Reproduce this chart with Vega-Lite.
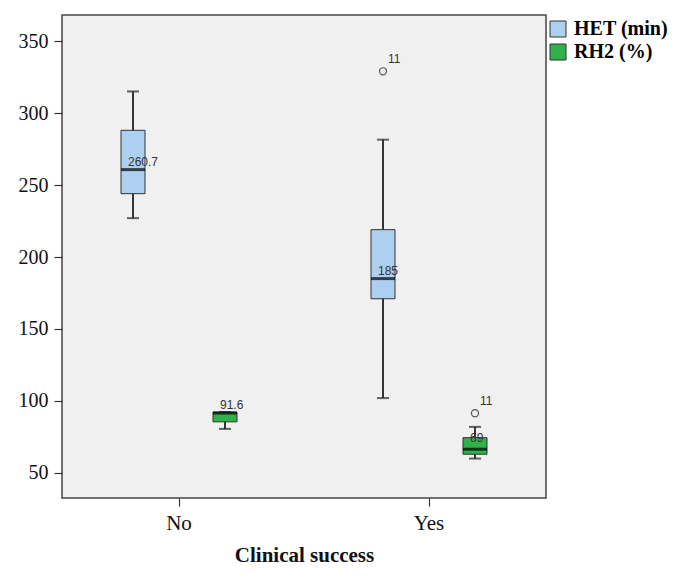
{
  "$schema": "https://vega.github.io/schema/vega-lite/v6.json",
  "autosize": "none",
  "padding": {"left": 62, "top": 15, "right": 142, "bottom": 80},
  "width": 484,
  "height": 483,
  "background": "white",
  "config": {
    "view": {"fill": "#f0f0f0", "stroke": "#444444", "strokeWidth": 1.5},
    "axis": {"grid": false, "domain": false, "tickColor": "#333333", "tickWidth": 1.2, "labelFont": "Liberation Serif", "labelColor": "#111111", "titleFont": "Liberation Serif", "titleColor": "#111111"}
  },
  "data": {
    "values": [
      {"group": "No", "series": "HET (min)", "lower": 227, "q1": 244, "median": 260.7, "q3": 288, "upper": 315, "label": "260.7", "labelPos": 260.7},
      {"group": "No", "series": "RH2 (%)", "lower": 80.6, "q1": 85.5, "median": 91.6, "q3": 92.3, "upper": 92.3, "label": "91.6", "labelPos": 91.6},
      {"group": "Yes", "series": "HET (min)", "lower": 102, "q1": 171, "median": 185, "q3": 219, "upper": 281.5, "label": "185", "labelPos": 185},
      {"group": "Yes", "series": "RH2 (%)", "lower": 60, "q1": 63, "median": 66.5, "q3": 74.5, "upper": 82, "label": "69", "labelPos": 69}
    ]
  },
  "encoding": {
    "x": {
      "field": "group", "type": "nominal",
      "scale": {"range": [-8, 492], "paddingInner": 0, "paddingOuter": 0},
      "axis": {"title": "Clinical success", "labelAngle": 0, "tickSize": 8, "labelPadding": 6, "labelFontSize": 21, "titleFontSize": 21, "titleFontWeight": "bold", "titlePadding": 11}
    },
    "xOffset": {
      "field": "series", "type": "nominal",
      "scale": {"paddingInner": 0, "paddingOuter": 0.359}
    }
  },
  "layer": [
    {
      "mark": {"type": "rule", "color": "#222222", "strokeWidth": 1.8},
      "encoding": {
        "y": {
          "field": "lower", "type": "quantitative",
          "scale": {"domain": [32.6, 368.1], "nice": false, "zero": false},
          "axis": {"title": null, "values": [50, 100, 150, 200, 250, 300, 350], "tickSize": 8, "labelPadding": 6, "labelFontSize": 20}
        },
        "y2": {"field": "upper"}
      }
    },
    {
      "mark": {"type": "tick", "color": "#222222", "size": 12, "thickness": 2},
      "encoding": {"y": {"field": "upper", "type": "quantitative"}}
    },
    {
      "mark": {"type": "tick", "color": "#222222", "size": 12, "thickness": 2},
      "encoding": {"y": {"field": "lower", "type": "quantitative"}}
    },
    {
      "mark": {"type": "bar", "width": 24, "stroke": "#333333", "strokeWidth": 1},
      "encoding": {
        "y": {"field": "q1", "type": "quantitative"},
        "y2": {"field": "q3"},
        "fill": {
          "field": "series", "type": "nominal",
          "scale": {"domain": ["HET (min)", "RH2 (%)"], "range": ["#aed0f0", "#2fb24a"]},
          "legend": {
            "title": null, "orient": "none", "legendX": 486, "legendY": 4,
            "symbolType": "square", "symbolSize": 256, "symbolStrokeColor": "#333333", "symbolStrokeWidth": 1,
            "labelFont": "Liberation Serif", "labelFontSize": 20, "labelFontWeight": "bold", "labelColor": "#000000",
            "rowPadding": 3, "labelOffset": 6, "padding": 0
          }
        }
      }
    },
    {
      "mark": {"type": "tick", "color": "#000000", "size": 24, "thickness": 3},
      "encoding": {"y": {"field": "median", "type": "quantitative"}}
    },
    {
      "mark": {"type": "text", "align": "left", "baseline": "alphabetic", "dx": -5, "dy": -4, "font": "Liberation Sans", "fontSize": 12, "color": "#333333"},
      "encoding": {
        "y": {"field": "labelPos", "type": "quantitative"},
        "text": {"field": "label"}
      }
    },
    {
      "data": {"values": [
        {"group": "Yes", "series": "HET (min)", "value": 329, "case": "11"},
        {"group": "Yes", "series": "RH2 (%)", "value": 91.5, "case": "11"}
      ]},
      "layer": [
        {
          "mark": {"type": "point", "shape": "circle", "size": 50, "filled": false, "stroke": "#555555", "strokeWidth": 1.2, "opacity": 1},
          "encoding": {"y": {"field": "value", "type": "quantitative"}}
        },
        {
          "mark": {"type": "text", "align": "left", "baseline": "alphabetic", "dx": 5, "dy": -8, "font": "Liberation Sans", "fontSize": 12, "color": "#333333"},
          "encoding": {
            "y": {"field": "value", "type": "quantitative"},
            "text": {"field": "case"}
          }
        }
      ]
    }
  ]
}
